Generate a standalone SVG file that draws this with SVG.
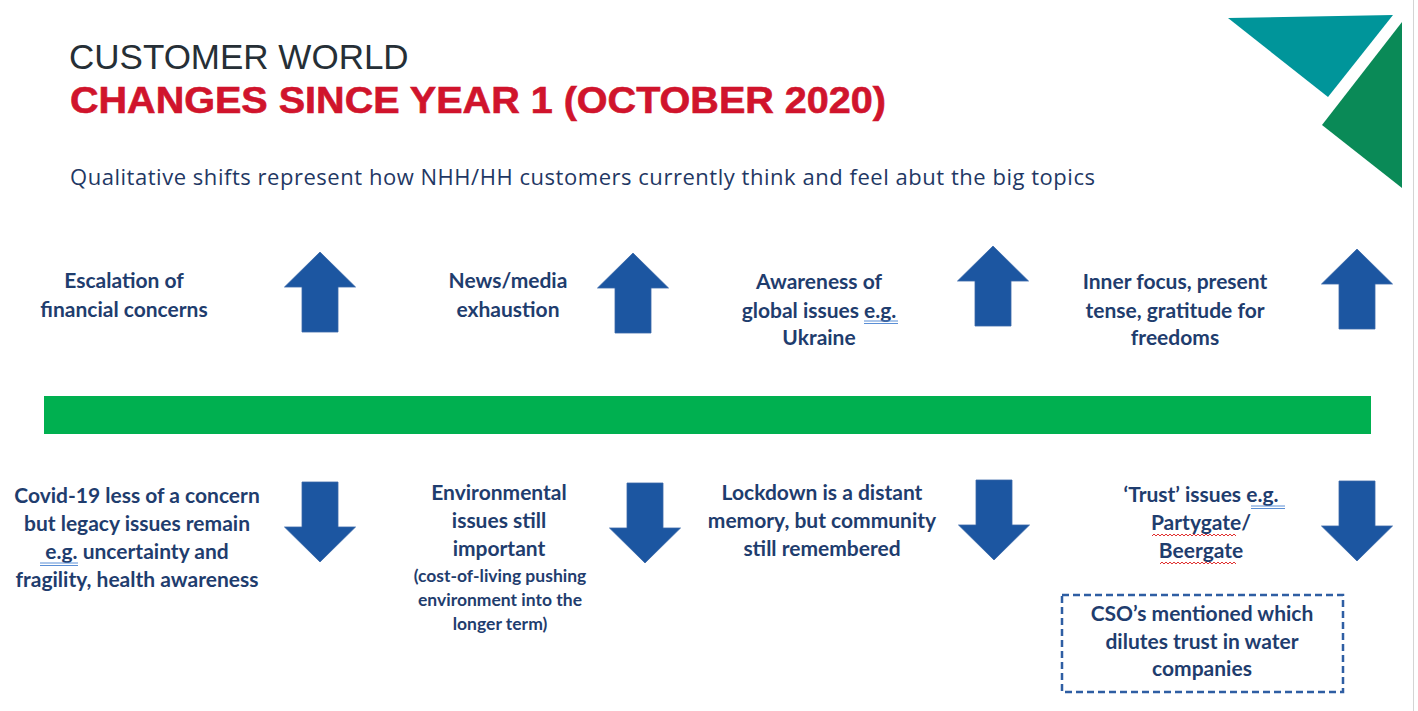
<svg xmlns="http://www.w3.org/2000/svg" width="1418" height="711" viewBox="0 0 1418 711">
  <style>
    .t1 { font-family: "Liberation Sans", Arial, sans-serif; font-size: 35px; fill: #262f36; }
    .t2 { font-family: "Liberation Sans", Arial, sans-serif; font-size: 36px; font-weight: bold; fill: #d0142c; stroke: #d0142c; stroke-width: 0.6; }
    .sub { font-family: "Open Sans", "Noto Sans", sans-serif; font-size: 22px; fill: #1f3864; }
    .lbl { font-family: Lato, "Noto Sans", sans-serif; font-size: 21px; font-weight: bold; fill: #1f3d6e; text-anchor: middle; }
    .sm { font-family: Lato, "Noto Sans", sans-serif; font-size: 17.5px; font-weight: bold; fill: #1f3d6e; text-anchor: middle; }
    .arrow { fill: #1c56a1; stroke: #3a68a8; stroke-width: 0.8; }
    .eg { stroke: #5b8fd6; stroke-width: 1; fill: none; }
    .wavy { stroke: #e0302f; stroke-width: 1; fill: none; }
  </style>
  <defs>
    <!-- up arrow: tip at 0,0 -->
    <path id="up" class="arrow" d="M0,0 L35.5,35 L18,35 L18,80 L-18,80 L-18,35 L-35.5,35 Z"/>
    <!-- down arrow: tip at 0,0 -->
    <path id="down" class="arrow" d="M0,0 L35.5,-35 L18,-35 L18,-80 L-18,-80 L-18,-35 L-35.5,-35 Z"/>
  </defs>

  <rect width="1418" height="711" fill="#ffffff"/>
  <line x1="1413.5" y1="0" x2="1413.5" y2="711" stroke="#d4d4d4" stroke-width="1"/>

  <!-- logo -->
  <g id="logo">
    <polygon points="1228,18 1393,15 1328,97" fill="#00959a"/>
    <polygon points="1402,22 1402,188 1322,125" fill="#0a8a57"/>
  </g>

  <!-- heading -->
  <g id="heading">
    <text class="t1" x="69" y="69">CUSTOMER WORLD</text>
    <text class="t2" x="70" y="113" textLength="816" lengthAdjust="spacingAndGlyphs">CHANGES SINCE YEAR 1 (OCTOBER 2020)</text>
    <text class="sub" x="70" y="185" textLength="1025">Qualitative shifts represent how NHH/HH customers currently think and feel abut the big topics</text>
  </g>

  <!-- timeline bar -->
  <rect id="timeline" x="44" y="396" width="1327" height="38" fill="#00b050"/>

  <!-- arrows -->
  <g id="connectors">
    <use href="#up" x="320" y="252"/>
    <use href="#up" x="633" y="253"/>
    <use href="#up" x="993" y="246"/>
    <use href="#up" x="1357" y="249"/>
    <use href="#down" x="320" y="562"/>
    <use href="#down" x="645" y="563"/>
    <use href="#down" x="994" y="560"/>
    <use href="#down" x="1357" y="561"/>
  </g>

  <!-- upper topics -->
  <g id="topic-finance">
    <text class="lbl" x="124" y="288">Escalation of</text>
    <text class="lbl" x="124" y="317">financial concerns</text>
  </g>
  <g id="topic-media">
    <text class="lbl" x="508" y="288">News/media</text>
    <text class="lbl" x="508" y="317">exhaustion</text>
  </g>
  <g id="topic-global">
    <text class="lbl" x="819" y="289">Awareness of</text>
    <text class="lbl" x="819" y="318">global issues e.g.</text>
    <text class="lbl" x="819" y="345">Ukraine</text>
    <path class="eg" d="M864,321 H898 M864,323.5 H898"/>
  </g>
  <g id="topic-inner">
    <text class="lbl" x="1175" y="289">Inner focus, present</text>
    <text class="lbl" x="1175" y="318">tense, gratitude for</text>
    <text class="lbl" x="1175" y="345">freedoms</text>
  </g>

  <!-- lower topics -->
  <g id="topic-covid">
    <text class="lbl" x="137" y="503">Covid-19 less of a concern</text>
    <text class="lbl" x="137" y="531">but legacy issues remain</text>
    <text class="lbl" x="137" y="559">e.g. uncertainty and</text>
    <text class="lbl" x="137" y="587">fragility, health awareness</text>
    <path class="eg" d="M40,563 H78 M40,565.5 H78"/>
  </g>
  <g id="topic-environment">
    <text class="lbl" x="499" y="500">Environmental</text>
    <text class="lbl" x="499" y="528">issues still</text>
    <text class="lbl" x="499" y="556">important</text>
    <text class="sm" x="500" y="582">(cost-of-living pushing</text>
    <text class="sm" x="500" y="606">environment into the</text>
    <text class="sm" x="500" y="630">longer term)</text>
  </g>
  <g id="topic-lockdown">
    <text class="lbl" x="822" y="500">Lockdown is a distant</text>
    <text class="lbl" x="822" y="528">memory, but community</text>
    <text class="lbl" x="822" y="556">still remembered</text>
  </g>
  <g id="topic-trust">
    <text class="lbl" x="1201" y="502">‘Trust’ issues e.g.</text>
    <text class="lbl" x="1201" y="530">Partygate/</text>
    <text class="lbl" x="1201" y="558">Beergate</text>
    <path class="eg" d="M1251,506 H1285 M1251,508.5 H1285"/>
    <path class="wavy" d="M1152,536 l2,-2 2,2 2,-2 2,2 2,-2 2,2 2,-2 2,2 2,-2 2,2 2,-2 2,2 2,-2 2,2 2,-2 2,2 2,-2 2,2 2,-2 2,2 2,-2 2,2 2,-2 2,2 2,-2 2,2 2,-2 2,2 2,-2 2,2 2,-2 2,2 2,-2 2,2 2,-2 2,2 2,-2 2,2 2,-2 2,2 2,-2 2,2"/>
    <path class="wavy" d="M1160,564 l2,-2 2,2 2,-2 2,2 2,-2 2,2 2,-2 2,2 2,-2 2,2 2,-2 2,2 2,-2 2,2 2,-2 2,2 2,-2 2,2 2,-2 2,2 2,-2 2,2 2,-2 2,2 2,-2 2,2 2,-2 2,2 2,-2 2,2 2,-2 2,2 2,-2 2,2 2,-2 2,2 2,-2 2,2"/>
  </g>
  <g id="topic-cso">
    <rect x="1062" y="595" width="281" height="97" fill="none" stroke="#2e5ea3" stroke-width="2.5" stroke-dasharray="7,4"/>
    <text class="lbl" x="1202" y="621">CSO’s mentioned which</text>
    <text class="lbl" x="1202" y="649">dilutes trust in water</text>
    <text class="lbl" x="1202" y="676">companies</text>
  </g>
</svg>
